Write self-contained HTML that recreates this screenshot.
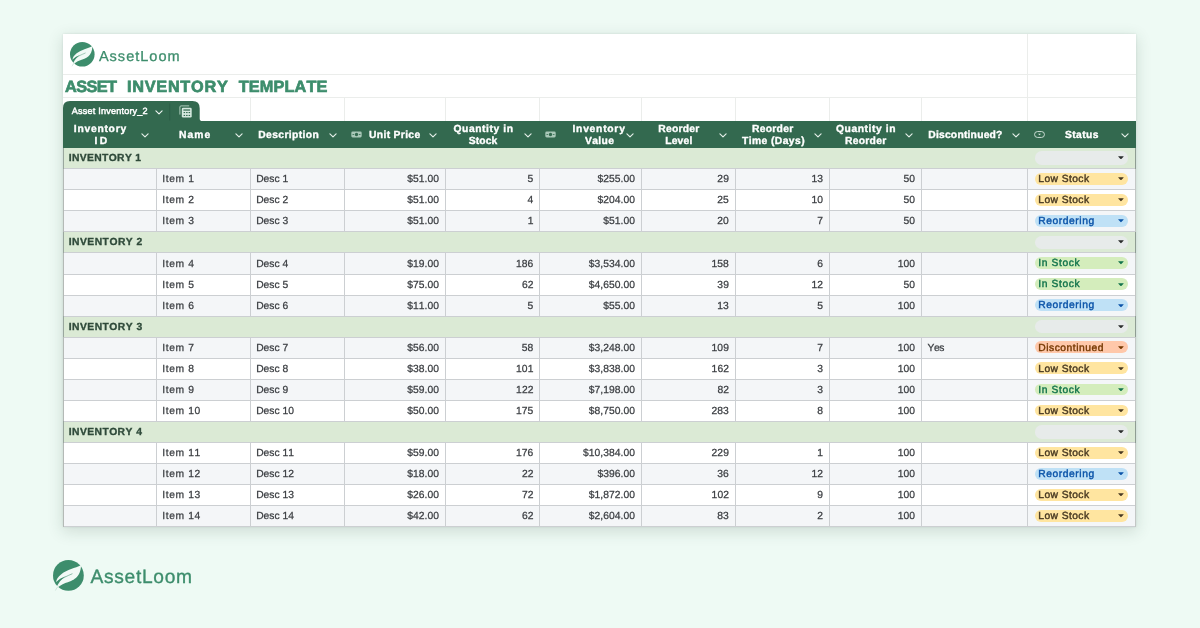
<!DOCTYPE html>
<html lang="en"><head><meta charset="utf-8"><title>Asset Inventory Template</title>
<style>
html,body{margin:0;padding:0;}
body{width:1200px;height:628px;overflow:hidden;background:#eefaf4;font-family:"Liberation Sans",sans-serif;position:relative;font-kerning:none;text-rendering:geometricPrecision;}
.abs{position:absolute;}
#sheet{position:absolute;left:62.5px;top:34px;width:1073.2px;height:492.8px;background:#fff;box-shadow:0 4px 14px 1px rgba(40,70,55,0.15), 0 0 2px rgba(40,70,55,0.12);}
.hl{position:absolute;height:1px;background:#ebedeb;}
.vl{position:absolute;width:1px;background:#ebedeb;}
.g{position:absolute;background:#cccfd2;}
.t{position:absolute;white-space:nowrap;}
#txt{position:absolute;left:0;top:0;width:1200px;height:628px;will-change:transform;}
.b{font-weight:bold;}
.pill{position:absolute;height:11.8px;border-radius:6px;}
.caret{position:absolute;width:5.9px;height:3.3px;}
</style></head><body>
<div id="sheet"></div>
<div class="hl" style="left:62.5px;top:74.2px;width:1073.2px;"></div>
<div class="hl" style="left:62.5px;top:97.2px;width:1073.2px;"></div>
<div class="vl" style="left:249.9px;top:97.7px;height:23.5px;"></div>
<div class="vl" style="left:344.3px;top:97.7px;height:23.5px;"></div>
<div class="vl" style="left:444.7px;top:97.7px;height:23.5px;"></div>
<div class="vl" style="left:539px;top:97.7px;height:23.5px;"></div>
<div class="vl" style="left:640.7px;top:97.7px;height:23.5px;"></div>
<div class="vl" style="left:734.5px;top:97.7px;height:23.5px;"></div>
<div class="vl" style="left:828.7px;top:97.7px;height:23.5px;"></div>
<div class="vl" style="left:920.7px;top:97.7px;height:23.5px;"></div>
<div class="vl" style="left:1027.2px;top:34px;height:87.2px;"></div>
<svg class="abs" style="left:70.05px;top:42.3px;" width="24.6" height="24.6" viewBox="0 0 100 100" overflow="visible"><circle cx="50" cy="50" r="50" fill="#3d8d6c"/><path d="M91,17 C72,26 46,31 27,46 C16,55 10,64 10.5,72 C18,63 30,57 44,52 C28,60 16,74 8,99 C15,88 27,79 42,74 C64,67 90,58 91,17 Z" fill="#f2faf6"/><path d="M12,72 C28,59 46,52 62,45" fill="none" stroke="#3d8d6c" stroke-width="1.8" stroke-linecap="round"/><path d="M8,99 C11,92 15,87 20,83" fill="none" stroke="#3d8d6c" stroke-opacity="0.45" stroke-width="1.4"/></svg>
<svg class="abs" style="left:63px;top:100.9px;" width="145" height="21" viewBox="0 0 145 21"><path d="M0,21 L0,7 Q0,0 7,0 L129.5,0 Q136.7,0 136.7,7.2 L136.7,17.6 Q136.7,20.3 139.4,20.3 L145,20.3 L145,21 Z" fill="#33694f"/><rect x="106.3" y="2.5" width="0.9" height="17" fill="#2c5d46"/></svg>
<svg class="abs" style="left:155.4px;top:109.8px;" width="8" height="5.2" viewBox="0 0 8 5.2"><path d="M0.9,0.8 L4,3.9 L7.1,0.8" fill="none" stroke="#f0f6f3" stroke-width="1.1" stroke-linecap="round" stroke-linejoin="round"/></svg>
<svg class="abs" style="left:178.6px;top:105px;" width="14" height="13.4" viewBox="0 0 14 13.4"><path d="M0.9,9.6 L0.9,2 Q0.9,0.9 2,0.9 L10.2,0.9" fill="none" stroke="#b5d3c3" stroke-width="0.95"/><rect x="2.8" y="2.7" width="9.9" height="9.9" rx="1.3" fill="#d6e9df"/><rect x="4.4" y="4.4" width="6.7" height="1.25" fill="#33694f"/><rect x="4.6" y="7" width="1.5" height="1.1" fill="#33694f"/><rect x="7.1" y="7" width="1.5" height="1.1" fill="#33694f"/><rect x="9.6" y="7" width="1.5" height="1.1" fill="#33694f"/><rect x="4.6" y="9.9" width="1.5" height="1.1" fill="#33694f"/><rect x="7.1" y="9.9" width="1.5" height="1.1" fill="#33694f"/><rect x="9.6" y="9.9" width="1.5" height="1.1" fill="#33694f"/></svg>
<div class="abs" style="left:62.5px;top:121.2px;width:1073.2px;height:26.4px;background:#33694f;"></div>
<svg class="abs" style="left:141.3px;top:132.9px;" width="8" height="5.2" viewBox="0 0 8 5.2"><path d="M0.9,0.8 L4,3.9 L7.1,0.8" fill="none" stroke="#e3eee8" stroke-width="1.15" stroke-linecap="round" stroke-linejoin="round"/></svg>
<svg class="abs" style="left:234.8px;top:132.9px;" width="8" height="5.2" viewBox="0 0 8 5.2"><path d="M0.9,0.8 L4,3.9 L7.1,0.8" fill="none" stroke="#e3eee8" stroke-width="1.15" stroke-linecap="round" stroke-linejoin="round"/></svg>
<svg class="abs" style="left:329.2px;top:132.9px;" width="8" height="5.2" viewBox="0 0 8 5.2"><path d="M0.9,0.8 L4,3.9 L7.1,0.8" fill="none" stroke="#e3eee8" stroke-width="1.15" stroke-linecap="round" stroke-linejoin="round"/></svg>
<svg class="abs" style="left:350.8px;top:130.8px;" width="11" height="7" viewBox="0 0 11 7"><rect x="0.3" y="0.5" width="10.4" height="6" rx="1.4" fill="#a9c8b8"/><circle cx="5.5" cy="3.5" r="1.7" fill="#33694f"/><rect x="1.6" y="3" width="1.2" height="1" fill="#33694f"/><rect x="8.2" y="3" width="1.2" height="1" fill="#33694f"/></svg>
<svg class="abs" style="left:429.3px;top:132.9px;" width="8" height="5.2" viewBox="0 0 8 5.2"><path d="M0.9,0.8 L4,3.9 L7.1,0.8" fill="none" stroke="#e3eee8" stroke-width="1.15" stroke-linecap="round" stroke-linejoin="round"/></svg>
<svg class="abs" style="left:523.5px;top:132.9px;" width="8" height="5.2" viewBox="0 0 8 5.2"><path d="M0.9,0.8 L4,3.9 L7.1,0.8" fill="none" stroke="#e3eee8" stroke-width="1.15" stroke-linecap="round" stroke-linejoin="round"/></svg>
<svg class="abs" style="left:545px;top:130.8px;" width="11" height="7" viewBox="0 0 11 7"><rect x="0.3" y="0.5" width="10.4" height="6" rx="1.4" fill="#a9c8b8"/><circle cx="5.5" cy="3.5" r="1.7" fill="#33694f"/><rect x="1.6" y="3" width="1.2" height="1" fill="#33694f"/><rect x="8.2" y="3" width="1.2" height="1" fill="#33694f"/></svg>
<svg class="abs" style="left:625.5px;top:132.9px;" width="8" height="5.2" viewBox="0 0 8 5.2"><path d="M0.9,0.8 L4,3.9 L7.1,0.8" fill="none" stroke="#e3eee8" stroke-width="1.15" stroke-linecap="round" stroke-linejoin="round"/></svg>
<svg class="abs" style="left:719.3px;top:132.9px;" width="8" height="5.2" viewBox="0 0 8 5.2"><path d="M0.9,0.8 L4,3.9 L7.1,0.8" fill="none" stroke="#e3eee8" stroke-width="1.15" stroke-linecap="round" stroke-linejoin="round"/></svg>
<svg class="abs" style="left:813.5px;top:132.9px;" width="8" height="5.2" viewBox="0 0 8 5.2"><path d="M0.9,0.8 L4,3.9 L7.1,0.8" fill="none" stroke="#e3eee8" stroke-width="1.15" stroke-linecap="round" stroke-linejoin="round"/></svg>
<svg class="abs" style="left:905.3px;top:132.9px;" width="8" height="5.2" viewBox="0 0 8 5.2"><path d="M0.9,0.8 L4,3.9 L7.1,0.8" fill="none" stroke="#e3eee8" stroke-width="1.15" stroke-linecap="round" stroke-linejoin="round"/></svg>
<svg class="abs" style="left:1011.8px;top:132.9px;" width="8" height="5.2" viewBox="0 0 8 5.2"><path d="M0.9,0.8 L4,3.9 L7.1,0.8" fill="none" stroke="#e3eee8" stroke-width="1.15" stroke-linecap="round" stroke-linejoin="round"/></svg>
<svg class="abs" style="left:1033.7px;top:131px;" width="11" height="7" viewBox="0 0 11 7"><rect x="0.55" y="0.55" width="9.9" height="5.9" rx="2.95" fill="none" stroke="#d9e8e0" stroke-width="0.9"/><path d="M4.1,2.7 L6.9,2.7 L5.5,4.3 Z" fill="#d9e8e0"/></svg>
<svg class="abs" style="left:1120.5px;top:132.9px;" width="8" height="5.2" viewBox="0 0 8 5.2"><path d="M0.9,0.8 L4,3.9 L7.1,0.8" fill="none" stroke="#e3eee8" stroke-width="1.15" stroke-linecap="round" stroke-linejoin="round"/></svg>
<div class="abs" style="left:62.5px;top:147.6px;width:1073.2px;height:21.07px;background:#dbead5;"></div>
<div class="abs" style="left:1034.8px;top:151.28px;width:93.2px;height:13.4px;border-radius:6.7px;background:rgba(232,234,237,0.88);"></div>
<svg class="caret" style="left:1118.35px;top:156.13px;" viewBox="0 0 6.4 3.6"><path d="M0.5,0.2 L5.9,0.2 Q6.3,0.3 6,0.7 L3.6,3.3 Q3.2,3.6 2.8,3.3 L0.4,0.7 Q0.1,0.3 0.5,0.2 Z" fill="#2a2d2c"/></svg>
<div class="abs" style="left:62.5px;top:168.67px;width:1073.2px;height:21.07px;background:#f4f6f8;"></div>
<div class="pill" style="left:1034.6px;top:172.85px;width:93.9px;background:#ffe5a0;"></div>
<svg class="caret" style="left:1118.35px;top:177.2px;" viewBox="0 0 6.4 3.6"><path d="M0.5,0.2 L5.9,0.2 Q6.3,0.3 6,0.7 L3.6,3.3 Q3.2,3.6 2.8,3.3 L0.4,0.7 Q0.1,0.3 0.5,0.2 Z" fill="#473821"/></svg>
<div class="pill" style="left:1034.6px;top:193.92px;width:93.9px;background:#ffe5a0;"></div>
<svg class="caret" style="left:1118.35px;top:198.27px;" viewBox="0 0 6.4 3.6"><path d="M0.5,0.2 L5.9,0.2 Q6.3,0.3 6,0.7 L3.6,3.3 Q3.2,3.6 2.8,3.3 L0.4,0.7 Q0.1,0.3 0.5,0.2 Z" fill="#473821"/></svg>
<div class="abs" style="left:62.5px;top:210.8px;width:1073.2px;height:21.07px;background:#f4f6f8;"></div>
<div class="pill" style="left:1034.6px;top:214.98px;width:93.9px;background:#bfe1f6;"></div>
<svg class="caret" style="left:1118.35px;top:219.33px;" viewBox="0 0 6.4 3.6"><path d="M0.5,0.2 L5.9,0.2 Q6.3,0.3 6,0.7 L3.6,3.3 Q3.2,3.6 2.8,3.3 L0.4,0.7 Q0.1,0.3 0.5,0.2 Z" fill="#0a53a8"/></svg>
<div class="abs" style="left:62.5px;top:231.87px;width:1073.2px;height:21.07px;background:#dbead5;"></div>
<div class="abs" style="left:1034.8px;top:235.55px;width:93.2px;height:13.4px;border-radius:6.7px;background:rgba(232,234,237,0.88);"></div>
<svg class="caret" style="left:1118.35px;top:240.4px;" viewBox="0 0 6.4 3.6"><path d="M0.5,0.2 L5.9,0.2 Q6.3,0.3 6,0.7 L3.6,3.3 Q3.2,3.6 2.8,3.3 L0.4,0.7 Q0.1,0.3 0.5,0.2 Z" fill="#2a2d2c"/></svg>
<div class="abs" style="left:62.5px;top:252.93px;width:1073.2px;height:21.07px;background:#f4f6f8;"></div>
<div class="pill" style="left:1034.6px;top:257.12px;width:93.9px;background:#d4edbc;"></div>
<svg class="caret" style="left:1118.35px;top:261.47px;" viewBox="0 0 6.4 3.6"><path d="M0.5,0.2 L5.9,0.2 Q6.3,0.3 6,0.7 L3.6,3.3 Q3.2,3.6 2.8,3.3 L0.4,0.7 Q0.1,0.3 0.5,0.2 Z" fill="#11734b"/></svg>
<div class="pill" style="left:1034.6px;top:278.18px;width:93.9px;background:#d4edbc;"></div>
<svg class="caret" style="left:1118.35px;top:282.53px;" viewBox="0 0 6.4 3.6"><path d="M0.5,0.2 L5.9,0.2 Q6.3,0.3 6,0.7 L3.6,3.3 Q3.2,3.6 2.8,3.3 L0.4,0.7 Q0.1,0.3 0.5,0.2 Z" fill="#11734b"/></svg>
<div class="abs" style="left:62.5px;top:295.07px;width:1073.2px;height:21.07px;background:#f4f6f8;"></div>
<div class="pill" style="left:1034.6px;top:299.25px;width:93.9px;background:#bfe1f6;"></div>
<svg class="caret" style="left:1118.35px;top:303.6px;" viewBox="0 0 6.4 3.6"><path d="M0.5,0.2 L5.9,0.2 Q6.3,0.3 6,0.7 L3.6,3.3 Q3.2,3.6 2.8,3.3 L0.4,0.7 Q0.1,0.3 0.5,0.2 Z" fill="#0a53a8"/></svg>
<div class="abs" style="left:62.5px;top:316.13px;width:1073.2px;height:21.07px;background:#dbead5;"></div>
<div class="abs" style="left:1034.8px;top:319.82px;width:93.2px;height:13.4px;border-radius:6.7px;background:rgba(232,234,237,0.88);"></div>
<svg class="caret" style="left:1118.35px;top:324.67px;" viewBox="0 0 6.4 3.6"><path d="M0.5,0.2 L5.9,0.2 Q6.3,0.3 6,0.7 L3.6,3.3 Q3.2,3.6 2.8,3.3 L0.4,0.7 Q0.1,0.3 0.5,0.2 Z" fill="#2a2d2c"/></svg>
<div class="abs" style="left:62.5px;top:337.2px;width:1073.2px;height:21.07px;background:#f4f6f8;"></div>
<div class="pill" style="left:1034.6px;top:341.38px;width:93.9px;background:#ffc8aa;"></div>
<svg class="caret" style="left:1118.35px;top:345.73px;" viewBox="0 0 6.4 3.6"><path d="M0.5,0.2 L5.9,0.2 Q6.3,0.3 6,0.7 L3.6,3.3 Q3.2,3.6 2.8,3.3 L0.4,0.7 Q0.1,0.3 0.5,0.2 Z" fill="#753800"/></svg>
<div class="pill" style="left:1034.6px;top:362.45px;width:93.9px;background:#ffe5a0;"></div>
<svg class="caret" style="left:1118.35px;top:366.8px;" viewBox="0 0 6.4 3.6"><path d="M0.5,0.2 L5.9,0.2 Q6.3,0.3 6,0.7 L3.6,3.3 Q3.2,3.6 2.8,3.3 L0.4,0.7 Q0.1,0.3 0.5,0.2 Z" fill="#473821"/></svg>
<div class="abs" style="left:62.5px;top:379.33px;width:1073.2px;height:21.07px;background:#f4f6f8;"></div>
<div class="pill" style="left:1034.6px;top:383.52px;width:93.9px;background:#d4edbc;"></div>
<svg class="caret" style="left:1118.35px;top:387.87px;" viewBox="0 0 6.4 3.6"><path d="M0.5,0.2 L5.9,0.2 Q6.3,0.3 6,0.7 L3.6,3.3 Q3.2,3.6 2.8,3.3 L0.4,0.7 Q0.1,0.3 0.5,0.2 Z" fill="#11734b"/></svg>
<div class="pill" style="left:1034.6px;top:404.58px;width:93.9px;background:#ffe5a0;"></div>
<svg class="caret" style="left:1118.35px;top:408.93px;" viewBox="0 0 6.4 3.6"><path d="M0.5,0.2 L5.9,0.2 Q6.3,0.3 6,0.7 L3.6,3.3 Q3.2,3.6 2.8,3.3 L0.4,0.7 Q0.1,0.3 0.5,0.2 Z" fill="#473821"/></svg>
<div class="abs" style="left:62.5px;top:421.47px;width:1073.2px;height:21.07px;background:#dbead5;"></div>
<div class="abs" style="left:1034.8px;top:425.15px;width:93.2px;height:13.4px;border-radius:6.7px;background:rgba(232,234,237,0.88);"></div>
<svg class="caret" style="left:1118.35px;top:430px;" viewBox="0 0 6.4 3.6"><path d="M0.5,0.2 L5.9,0.2 Q6.3,0.3 6,0.7 L3.6,3.3 Q3.2,3.6 2.8,3.3 L0.4,0.7 Q0.1,0.3 0.5,0.2 Z" fill="#2a2d2c"/></svg>
<div class="pill" style="left:1034.6px;top:446.72px;width:93.9px;background:#ffe5a0;"></div>
<svg class="caret" style="left:1118.35px;top:451.07px;" viewBox="0 0 6.4 3.6"><path d="M0.5,0.2 L5.9,0.2 Q6.3,0.3 6,0.7 L3.6,3.3 Q3.2,3.6 2.8,3.3 L0.4,0.7 Q0.1,0.3 0.5,0.2 Z" fill="#473821"/></svg>
<div class="abs" style="left:62.5px;top:463.6px;width:1073.2px;height:21.07px;background:#f4f6f8;"></div>
<div class="pill" style="left:1034.6px;top:467.78px;width:93.9px;background:#bfe1f6;"></div>
<svg class="caret" style="left:1118.35px;top:472.13px;" viewBox="0 0 6.4 3.6"><path d="M0.5,0.2 L5.9,0.2 Q6.3,0.3 6,0.7 L3.6,3.3 Q3.2,3.6 2.8,3.3 L0.4,0.7 Q0.1,0.3 0.5,0.2 Z" fill="#0a53a8"/></svg>
<div class="pill" style="left:1034.6px;top:488.85px;width:93.9px;background:#ffe5a0;"></div>
<svg class="caret" style="left:1118.35px;top:493.2px;" viewBox="0 0 6.4 3.6"><path d="M0.5,0.2 L5.9,0.2 Q6.3,0.3 6,0.7 L3.6,3.3 Q3.2,3.6 2.8,3.3 L0.4,0.7 Q0.1,0.3 0.5,0.2 Z" fill="#473821"/></svg>
<div class="abs" style="left:62.5px;top:505.73px;width:1073.2px;height:21.07px;background:#f4f6f8;"></div>
<div class="pill" style="left:1034.6px;top:509.92px;width:93.9px;background:#ffe5a0;"></div>
<svg class="caret" style="left:1118.35px;top:514.27px;" viewBox="0 0 6.4 3.6"><path d="M0.5,0.2 L5.9,0.2 Q6.3,0.3 6,0.7 L3.6,3.3 Q3.2,3.6 2.8,3.3 L0.4,0.7 Q0.1,0.3 0.5,0.2 Z" fill="#473821"/></svg>
<div class="g" style="left:62.5px;top:168.17px;width:1073.2px;height:1px;"></div>
<div class="g" style="left:62.5px;top:189.23px;width:1073.2px;height:1px;"></div>
<div class="g" style="left:62.5px;top:210.3px;width:1073.2px;height:1px;"></div>
<div class="g" style="left:62.5px;top:231.37px;width:1073.2px;height:1px;"></div>
<div class="g" style="left:62.5px;top:252.43px;width:1073.2px;height:1px;"></div>
<div class="g" style="left:62.5px;top:273.5px;width:1073.2px;height:1px;"></div>
<div class="g" style="left:62.5px;top:294.57px;width:1073.2px;height:1px;"></div>
<div class="g" style="left:62.5px;top:315.63px;width:1073.2px;height:1px;"></div>
<div class="g" style="left:62.5px;top:336.7px;width:1073.2px;height:1px;"></div>
<div class="g" style="left:62.5px;top:357.77px;width:1073.2px;height:1px;"></div>
<div class="g" style="left:62.5px;top:378.83px;width:1073.2px;height:1px;"></div>
<div class="g" style="left:62.5px;top:399.9px;width:1073.2px;height:1px;"></div>
<div class="g" style="left:62.5px;top:420.97px;width:1073.2px;height:1px;"></div>
<div class="g" style="left:62.5px;top:442.03px;width:1073.2px;height:1px;"></div>
<div class="g" style="left:62.5px;top:463.1px;width:1073.2px;height:1px;"></div>
<div class="g" style="left:62.5px;top:484.17px;width:1073.2px;height:1px;"></div>
<div class="g" style="left:62.5px;top:505.23px;width:1073.2px;height:1px;"></div>
<div class="g" style="left:62.5px;top:526.3px;width:1073.2px;height:1px;"></div>
<div class="g" style="left:156.2px;top:168.67px;width:1px;height:21.07px;"></div>
<div class="g" style="left:249.9px;top:168.67px;width:1px;height:21.07px;"></div>
<div class="g" style="left:344.3px;top:168.67px;width:1px;height:21.07px;"></div>
<div class="g" style="left:444.7px;top:168.67px;width:1px;height:21.07px;"></div>
<div class="g" style="left:539px;top:168.67px;width:1px;height:21.07px;"></div>
<div class="g" style="left:640.7px;top:168.67px;width:1px;height:21.07px;"></div>
<div class="g" style="left:734.5px;top:168.67px;width:1px;height:21.07px;"></div>
<div class="g" style="left:828.7px;top:168.67px;width:1px;height:21.07px;"></div>
<div class="g" style="left:920.7px;top:168.67px;width:1px;height:21.07px;"></div>
<div class="g" style="left:1027.2px;top:168.67px;width:1px;height:21.07px;"></div>
<div class="g" style="left:156.2px;top:189.73px;width:1px;height:21.07px;"></div>
<div class="g" style="left:249.9px;top:189.73px;width:1px;height:21.07px;"></div>
<div class="g" style="left:344.3px;top:189.73px;width:1px;height:21.07px;"></div>
<div class="g" style="left:444.7px;top:189.73px;width:1px;height:21.07px;"></div>
<div class="g" style="left:539px;top:189.73px;width:1px;height:21.07px;"></div>
<div class="g" style="left:640.7px;top:189.73px;width:1px;height:21.07px;"></div>
<div class="g" style="left:734.5px;top:189.73px;width:1px;height:21.07px;"></div>
<div class="g" style="left:828.7px;top:189.73px;width:1px;height:21.07px;"></div>
<div class="g" style="left:920.7px;top:189.73px;width:1px;height:21.07px;"></div>
<div class="g" style="left:1027.2px;top:189.73px;width:1px;height:21.07px;"></div>
<div class="g" style="left:156.2px;top:210.8px;width:1px;height:21.07px;"></div>
<div class="g" style="left:249.9px;top:210.8px;width:1px;height:21.07px;"></div>
<div class="g" style="left:344.3px;top:210.8px;width:1px;height:21.07px;"></div>
<div class="g" style="left:444.7px;top:210.8px;width:1px;height:21.07px;"></div>
<div class="g" style="left:539px;top:210.8px;width:1px;height:21.07px;"></div>
<div class="g" style="left:640.7px;top:210.8px;width:1px;height:21.07px;"></div>
<div class="g" style="left:734.5px;top:210.8px;width:1px;height:21.07px;"></div>
<div class="g" style="left:828.7px;top:210.8px;width:1px;height:21.07px;"></div>
<div class="g" style="left:920.7px;top:210.8px;width:1px;height:21.07px;"></div>
<div class="g" style="left:1027.2px;top:210.8px;width:1px;height:21.07px;"></div>
<div class="g" style="left:156.2px;top:252.93px;width:1px;height:21.07px;"></div>
<div class="g" style="left:249.9px;top:252.93px;width:1px;height:21.07px;"></div>
<div class="g" style="left:344.3px;top:252.93px;width:1px;height:21.07px;"></div>
<div class="g" style="left:444.7px;top:252.93px;width:1px;height:21.07px;"></div>
<div class="g" style="left:539px;top:252.93px;width:1px;height:21.07px;"></div>
<div class="g" style="left:640.7px;top:252.93px;width:1px;height:21.07px;"></div>
<div class="g" style="left:734.5px;top:252.93px;width:1px;height:21.07px;"></div>
<div class="g" style="left:828.7px;top:252.93px;width:1px;height:21.07px;"></div>
<div class="g" style="left:920.7px;top:252.93px;width:1px;height:21.07px;"></div>
<div class="g" style="left:1027.2px;top:252.93px;width:1px;height:21.07px;"></div>
<div class="g" style="left:156.2px;top:274px;width:1px;height:21.07px;"></div>
<div class="g" style="left:249.9px;top:274px;width:1px;height:21.07px;"></div>
<div class="g" style="left:344.3px;top:274px;width:1px;height:21.07px;"></div>
<div class="g" style="left:444.7px;top:274px;width:1px;height:21.07px;"></div>
<div class="g" style="left:539px;top:274px;width:1px;height:21.07px;"></div>
<div class="g" style="left:640.7px;top:274px;width:1px;height:21.07px;"></div>
<div class="g" style="left:734.5px;top:274px;width:1px;height:21.07px;"></div>
<div class="g" style="left:828.7px;top:274px;width:1px;height:21.07px;"></div>
<div class="g" style="left:920.7px;top:274px;width:1px;height:21.07px;"></div>
<div class="g" style="left:1027.2px;top:274px;width:1px;height:21.07px;"></div>
<div class="g" style="left:156.2px;top:295.07px;width:1px;height:21.07px;"></div>
<div class="g" style="left:249.9px;top:295.07px;width:1px;height:21.07px;"></div>
<div class="g" style="left:344.3px;top:295.07px;width:1px;height:21.07px;"></div>
<div class="g" style="left:444.7px;top:295.07px;width:1px;height:21.07px;"></div>
<div class="g" style="left:539px;top:295.07px;width:1px;height:21.07px;"></div>
<div class="g" style="left:640.7px;top:295.07px;width:1px;height:21.07px;"></div>
<div class="g" style="left:734.5px;top:295.07px;width:1px;height:21.07px;"></div>
<div class="g" style="left:828.7px;top:295.07px;width:1px;height:21.07px;"></div>
<div class="g" style="left:920.7px;top:295.07px;width:1px;height:21.07px;"></div>
<div class="g" style="left:1027.2px;top:295.07px;width:1px;height:21.07px;"></div>
<div class="g" style="left:156.2px;top:337.2px;width:1px;height:21.07px;"></div>
<div class="g" style="left:249.9px;top:337.2px;width:1px;height:21.07px;"></div>
<div class="g" style="left:344.3px;top:337.2px;width:1px;height:21.07px;"></div>
<div class="g" style="left:444.7px;top:337.2px;width:1px;height:21.07px;"></div>
<div class="g" style="left:539px;top:337.2px;width:1px;height:21.07px;"></div>
<div class="g" style="left:640.7px;top:337.2px;width:1px;height:21.07px;"></div>
<div class="g" style="left:734.5px;top:337.2px;width:1px;height:21.07px;"></div>
<div class="g" style="left:828.7px;top:337.2px;width:1px;height:21.07px;"></div>
<div class="g" style="left:920.7px;top:337.2px;width:1px;height:21.07px;"></div>
<div class="g" style="left:1027.2px;top:337.2px;width:1px;height:21.07px;"></div>
<div class="g" style="left:156.2px;top:358.27px;width:1px;height:21.07px;"></div>
<div class="g" style="left:249.9px;top:358.27px;width:1px;height:21.07px;"></div>
<div class="g" style="left:344.3px;top:358.27px;width:1px;height:21.07px;"></div>
<div class="g" style="left:444.7px;top:358.27px;width:1px;height:21.07px;"></div>
<div class="g" style="left:539px;top:358.27px;width:1px;height:21.07px;"></div>
<div class="g" style="left:640.7px;top:358.27px;width:1px;height:21.07px;"></div>
<div class="g" style="left:734.5px;top:358.27px;width:1px;height:21.07px;"></div>
<div class="g" style="left:828.7px;top:358.27px;width:1px;height:21.07px;"></div>
<div class="g" style="left:920.7px;top:358.27px;width:1px;height:21.07px;"></div>
<div class="g" style="left:1027.2px;top:358.27px;width:1px;height:21.07px;"></div>
<div class="g" style="left:156.2px;top:379.33px;width:1px;height:21.07px;"></div>
<div class="g" style="left:249.9px;top:379.33px;width:1px;height:21.07px;"></div>
<div class="g" style="left:344.3px;top:379.33px;width:1px;height:21.07px;"></div>
<div class="g" style="left:444.7px;top:379.33px;width:1px;height:21.07px;"></div>
<div class="g" style="left:539px;top:379.33px;width:1px;height:21.07px;"></div>
<div class="g" style="left:640.7px;top:379.33px;width:1px;height:21.07px;"></div>
<div class="g" style="left:734.5px;top:379.33px;width:1px;height:21.07px;"></div>
<div class="g" style="left:828.7px;top:379.33px;width:1px;height:21.07px;"></div>
<div class="g" style="left:920.7px;top:379.33px;width:1px;height:21.07px;"></div>
<div class="g" style="left:1027.2px;top:379.33px;width:1px;height:21.07px;"></div>
<div class="g" style="left:156.2px;top:400.4px;width:1px;height:21.07px;"></div>
<div class="g" style="left:249.9px;top:400.4px;width:1px;height:21.07px;"></div>
<div class="g" style="left:344.3px;top:400.4px;width:1px;height:21.07px;"></div>
<div class="g" style="left:444.7px;top:400.4px;width:1px;height:21.07px;"></div>
<div class="g" style="left:539px;top:400.4px;width:1px;height:21.07px;"></div>
<div class="g" style="left:640.7px;top:400.4px;width:1px;height:21.07px;"></div>
<div class="g" style="left:734.5px;top:400.4px;width:1px;height:21.07px;"></div>
<div class="g" style="left:828.7px;top:400.4px;width:1px;height:21.07px;"></div>
<div class="g" style="left:920.7px;top:400.4px;width:1px;height:21.07px;"></div>
<div class="g" style="left:1027.2px;top:400.4px;width:1px;height:21.07px;"></div>
<div class="g" style="left:156.2px;top:442.53px;width:1px;height:21.07px;"></div>
<div class="g" style="left:249.9px;top:442.53px;width:1px;height:21.07px;"></div>
<div class="g" style="left:344.3px;top:442.53px;width:1px;height:21.07px;"></div>
<div class="g" style="left:444.7px;top:442.53px;width:1px;height:21.07px;"></div>
<div class="g" style="left:539px;top:442.53px;width:1px;height:21.07px;"></div>
<div class="g" style="left:640.7px;top:442.53px;width:1px;height:21.07px;"></div>
<div class="g" style="left:734.5px;top:442.53px;width:1px;height:21.07px;"></div>
<div class="g" style="left:828.7px;top:442.53px;width:1px;height:21.07px;"></div>
<div class="g" style="left:920.7px;top:442.53px;width:1px;height:21.07px;"></div>
<div class="g" style="left:1027.2px;top:442.53px;width:1px;height:21.07px;"></div>
<div class="g" style="left:156.2px;top:463.6px;width:1px;height:21.07px;"></div>
<div class="g" style="left:249.9px;top:463.6px;width:1px;height:21.07px;"></div>
<div class="g" style="left:344.3px;top:463.6px;width:1px;height:21.07px;"></div>
<div class="g" style="left:444.7px;top:463.6px;width:1px;height:21.07px;"></div>
<div class="g" style="left:539px;top:463.6px;width:1px;height:21.07px;"></div>
<div class="g" style="left:640.7px;top:463.6px;width:1px;height:21.07px;"></div>
<div class="g" style="left:734.5px;top:463.6px;width:1px;height:21.07px;"></div>
<div class="g" style="left:828.7px;top:463.6px;width:1px;height:21.07px;"></div>
<div class="g" style="left:920.7px;top:463.6px;width:1px;height:21.07px;"></div>
<div class="g" style="left:1027.2px;top:463.6px;width:1px;height:21.07px;"></div>
<div class="g" style="left:156.2px;top:484.67px;width:1px;height:21.07px;"></div>
<div class="g" style="left:249.9px;top:484.67px;width:1px;height:21.07px;"></div>
<div class="g" style="left:344.3px;top:484.67px;width:1px;height:21.07px;"></div>
<div class="g" style="left:444.7px;top:484.67px;width:1px;height:21.07px;"></div>
<div class="g" style="left:539px;top:484.67px;width:1px;height:21.07px;"></div>
<div class="g" style="left:640.7px;top:484.67px;width:1px;height:21.07px;"></div>
<div class="g" style="left:734.5px;top:484.67px;width:1px;height:21.07px;"></div>
<div class="g" style="left:828.7px;top:484.67px;width:1px;height:21.07px;"></div>
<div class="g" style="left:920.7px;top:484.67px;width:1px;height:21.07px;"></div>
<div class="g" style="left:1027.2px;top:484.67px;width:1px;height:21.07px;"></div>
<div class="g" style="left:156.2px;top:505.73px;width:1px;height:21.07px;"></div>
<div class="g" style="left:249.9px;top:505.73px;width:1px;height:21.07px;"></div>
<div class="g" style="left:344.3px;top:505.73px;width:1px;height:21.07px;"></div>
<div class="g" style="left:444.7px;top:505.73px;width:1px;height:21.07px;"></div>
<div class="g" style="left:539px;top:505.73px;width:1px;height:21.07px;"></div>
<div class="g" style="left:640.7px;top:505.73px;width:1px;height:21.07px;"></div>
<div class="g" style="left:734.5px;top:505.73px;width:1px;height:21.07px;"></div>
<div class="g" style="left:828.7px;top:505.73px;width:1px;height:21.07px;"></div>
<div class="g" style="left:920.7px;top:505.73px;width:1px;height:21.07px;"></div>
<div class="g" style="left:1027.2px;top:505.73px;width:1px;height:21.07px;"></div>
<div class="g" style="left:62.5px;top:147.6px;width:1px;height:379.2px;background:#b4b9b6;"></div>
<div class="g" style="left:1134.7px;top:147.6px;width:1px;height:379.2px;background:#c3c7c5;"></div>
<div class="abs" style="left:1134.7px;top:147.6px;width:1px;height:21.07px;background:#8f9d93;"></div>
<div class="abs" style="left:62.5px;top:147.6px;width:1px;height:21.07px;background:#9aa79e;"></div>
<div class="abs" style="left:1134.7px;top:231.87px;width:1px;height:21.07px;background:#8f9d93;"></div>
<div class="abs" style="left:62.5px;top:231.87px;width:1px;height:21.07px;background:#9aa79e;"></div>
<div class="abs" style="left:1134.7px;top:316.13px;width:1px;height:21.07px;background:#8f9d93;"></div>
<div class="abs" style="left:62.5px;top:316.13px;width:1px;height:21.07px;background:#9aa79e;"></div>
<div class="abs" style="left:1134.7px;top:421.47px;width:1px;height:21.07px;background:#8f9d93;"></div>
<div class="abs" style="left:62.5px;top:421.47px;width:1px;height:21.07px;background:#9aa79e;"></div>
<svg class="abs" style="left:53.35px;top:560.2px;" width="30.8" height="30.8" viewBox="0 0 100 100" overflow="visible"><circle cx="50" cy="50" r="50" fill="#3d8d6c"/><path d="M91,17 C72,26 46,31 27,46 C16,55 10,64 10.5,72 C18,63 30,57 44,52 C28,60 16,74 8,99 C15,88 27,79 42,74 C64,67 90,58 91,17 Z" fill="#f2faf6"/><path d="M12,72 C28,59 46,52 62,45" fill="none" stroke="#3d8d6c" stroke-width="1.8" stroke-linecap="round"/><path d="M8,99 C11,92 15,87 20,83" fill="none" stroke="#3d8d6c" stroke-opacity="0.45" stroke-width="1.4"/></svg>
<div id="txt">
<div class="t" style="left:98.92px;top:48.6px;font-size:14.5px;line-height:17px;letter-spacing:1.019px;color:#3d8d6c;-webkit-text-stroke:0.3px #3d8d6c;">AssetLoom</div>
<div class="t b" style="left:65.04px;top:76.8px;font-size:16.3px;line-height:20px;letter-spacing:-0.591px;color:#3d8d6c;-webkit-text-stroke:0.7px #3d8d6c;">ASSET</div>
<div class="t b" style="left:126.96px;top:76.8px;font-size:16.3px;line-height:20px;letter-spacing:0.732px;color:#3d8d6c;-webkit-text-stroke:0.7px #3d8d6c;">INVENTORY</div>
<div class="t b" style="left:238.67px;top:76.8px;font-size:16.3px;line-height:20px;letter-spacing:0.141px;color:#3d8d6c;-webkit-text-stroke:0.7px #3d8d6c;">TEMPLATE</div>
<div class="t" style="left:71.71px;top:106.3px;font-size:9.1px;line-height:11px;letter-spacing:0.199px;color:#fff;-webkit-text-stroke:0.45px #fff;">Asset Inventory_2</div>
<div class="t b" style="left:73.79px;top:124px;font-size:10.3px;line-height:12px;letter-spacing:0.748px;color:#fff;-webkit-text-stroke:0.35px #fff;">Inventory</div>
<div class="t b" style="left:94.39px;top:136.4px;font-size:10.3px;line-height:12px;letter-spacing:2.472px;color:#fff;-webkit-text-stroke:0.35px #fff;">ID</div>
<div class="t b" style="left:178.99px;top:130px;font-size:10.3px;line-height:12px;letter-spacing:1.046px;color:#fff;-webkit-text-stroke:0.35px #fff;">Name</div>
<div class="t b" style="left:258.24px;top:130px;font-size:10.3px;line-height:12px;letter-spacing:0.382px;color:#fff;-webkit-text-stroke:0.35px #fff;">Description</div>
<div class="t b" style="left:369.06px;top:130px;font-size:10.3px;line-height:12px;letter-spacing:0.338px;color:#fff;-webkit-text-stroke:0.35px #fff;">Unit Price</div>
<div class="t b" style="left:453.5px;top:124px;font-size:10.3px;line-height:12px;letter-spacing:0.567px;color:#fff;-webkit-text-stroke:0.35px #fff;">Quantity in</div>
<div class="t b" style="left:468.63px;top:136.4px;font-size:10.3px;line-height:12px;letter-spacing:0.160px;color:#fff;-webkit-text-stroke:0.35px #fff;">Stock</div>
<div class="t b" style="left:572.49px;top:124px;font-size:10.3px;line-height:12px;letter-spacing:0.754px;color:#fff;-webkit-text-stroke:0.35px #fff;">Inventory</div>
<div class="t b" style="left:585.1px;top:136.4px;font-size:10.3px;line-height:12px;letter-spacing:0.336px;color:#fff;-webkit-text-stroke:0.35px #fff;">Value</div>
<div class="t b" style="left:658.24px;top:124px;font-size:10.3px;line-height:12px;letter-spacing:0.250px;color:#fff;-webkit-text-stroke:0.35px #fff;">Reorder</div>
<div class="t b" style="left:665.24px;top:136.4px;font-size:10.3px;line-height:12px;letter-spacing:0.182px;color:#fff;-webkit-text-stroke:0.35px #fff;">Level</div>
<div class="t b" style="left:751.99px;top:124px;font-size:10.3px;line-height:12px;letter-spacing:0.292px;color:#fff;-webkit-text-stroke:0.35px #fff;">Reorder</div>
<div class="t b" style="left:742.06px;top:136.4px;font-size:10.3px;line-height:12px;letter-spacing:0.414px;color:#fff;-webkit-text-stroke:0.35px #fff;">Time (Days)</div>
<div class="t b" style="left:836px;top:124px;font-size:10.3px;line-height:12px;letter-spacing:0.567px;color:#fff;-webkit-text-stroke:0.35px #fff;">Quantity in</div>
<div class="t b" style="left:844.99px;top:136.4px;font-size:10.3px;line-height:12px;letter-spacing:0.292px;color:#fff;-webkit-text-stroke:0.35px #fff;">Reorder</div>
<div class="t b" style="left:928.24px;top:130px;font-size:10.3px;line-height:12px;letter-spacing:0.221px;color:#fff;-webkit-text-stroke:0.35px #fff;">Discontinued?</div>
<div class="t b" style="left:1064.88px;top:130px;font-size:10.3px;line-height:12px;letter-spacing:0.428px;color:#fff;-webkit-text-stroke:0.35px #fff;">Status</div>
<div class="t b" style="left:68.74px;top:153.2px;font-size:10.3px;line-height:12px;letter-spacing:0.370px;color:#2f4a3a;-webkit-text-stroke:0.35px #2f4a3a;">INVENTORY 1</div>
<div class="t" style="left:162.27px;top:174.27px;font-size:10.3px;line-height:12px;letter-spacing:0.600px;color:#3a3d41;-webkit-text-stroke:0.25px #3a3d41;">Item 1</div>
<div class="t" style="left:256.18px;top:174.27px;font-size:10.3px;line-height:12px;letter-spacing:0.000px;color:#3a3d41;-webkit-text-stroke:0.25px #3a3d41;">Desc 1</div>
<div class="t" style="left:407.22px;top:174.27px;font-size:10.3px;line-height:12px;letter-spacing:0.050px;color:#3a3d41;-webkit-text-stroke:0.25px #3a3d41;">$51.00</div>
<div class="t" style="left:527.58px;top:174.27px;font-size:10.3px;line-height:12px;letter-spacing:0.050px;color:#3a3d41;-webkit-text-stroke:0.25px #3a3d41;">5</div>
<div class="t" style="left:597.45px;top:174.27px;font-size:10.3px;line-height:12px;letter-spacing:0.050px;color:#3a3d41;-webkit-text-stroke:0.25px #3a3d41;">$255.00</div>
<div class="t" style="left:717.36px;top:174.27px;font-size:10.3px;line-height:12px;letter-spacing:0.050px;color:#3a3d41;-webkit-text-stroke:0.25px #3a3d41;">29</div>
<div class="t" style="left:811.52px;top:174.27px;font-size:10.3px;line-height:12px;letter-spacing:0.050px;color:#3a3d41;-webkit-text-stroke:0.25px #3a3d41;">13</div>
<div class="t" style="left:903.47px;top:174.27px;font-size:10.3px;line-height:12px;letter-spacing:0.050px;color:#3a3d41;-webkit-text-stroke:0.25px #3a3d41;">50</div>
<div class="t" style="left:1038.26px;top:173.97px;font-size:10.3px;line-height:12px;letter-spacing:0.414px;color:#473821;-webkit-text-stroke:0.4px #473821;">Low Stock</div>
<div class="t" style="left:162.27px;top:195.33px;font-size:10.3px;line-height:12px;letter-spacing:0.600px;color:#3a3d41;-webkit-text-stroke:0.25px #3a3d41;">Item 2</div>
<div class="t" style="left:256.18px;top:195.33px;font-size:10.3px;line-height:12px;letter-spacing:0.000px;color:#3a3d41;-webkit-text-stroke:0.25px #3a3d41;">Desc 2</div>
<div class="t" style="left:407.22px;top:195.33px;font-size:10.3px;line-height:12px;letter-spacing:0.050px;color:#3a3d41;-webkit-text-stroke:0.25px #3a3d41;">$51.00</div>
<div class="t" style="left:527.45px;top:195.33px;font-size:10.3px;line-height:12px;letter-spacing:0.050px;color:#3a3d41;-webkit-text-stroke:0.25px #3a3d41;">4</div>
<div class="t" style="left:597.45px;top:195.33px;font-size:10.3px;line-height:12px;letter-spacing:0.050px;color:#3a3d41;-webkit-text-stroke:0.25px #3a3d41;">$204.00</div>
<div class="t" style="left:717.3px;top:195.33px;font-size:10.3px;line-height:12px;letter-spacing:0.050px;color:#3a3d41;-webkit-text-stroke:0.25px #3a3d41;">25</div>
<div class="t" style="left:811.47px;top:195.33px;font-size:10.3px;line-height:12px;letter-spacing:0.050px;color:#3a3d41;-webkit-text-stroke:0.25px #3a3d41;">10</div>
<div class="t" style="left:903.47px;top:195.33px;font-size:10.3px;line-height:12px;letter-spacing:0.050px;color:#3a3d41;-webkit-text-stroke:0.25px #3a3d41;">50</div>
<div class="t" style="left:1038.26px;top:195.03px;font-size:10.3px;line-height:12px;letter-spacing:0.414px;color:#473821;-webkit-text-stroke:0.4px #473821;">Low Stock</div>
<div class="t" style="left:162.27px;top:216.4px;font-size:10.3px;line-height:12px;letter-spacing:0.600px;color:#3a3d41;-webkit-text-stroke:0.25px #3a3d41;">Item 3</div>
<div class="t" style="left:256.18px;top:216.4px;font-size:10.3px;line-height:12px;letter-spacing:0.000px;color:#3a3d41;-webkit-text-stroke:0.25px #3a3d41;">Desc 3</div>
<div class="t" style="left:407.22px;top:216.4px;font-size:10.3px;line-height:12px;letter-spacing:0.050px;color:#3a3d41;-webkit-text-stroke:0.25px #3a3d41;">$51.00</div>
<div class="t" style="left:527.65px;top:216.4px;font-size:10.3px;line-height:12px;letter-spacing:0.050px;color:#3a3d41;-webkit-text-stroke:0.25px #3a3d41;">1</div>
<div class="t" style="left:603.22px;top:216.4px;font-size:10.3px;line-height:12px;letter-spacing:0.050px;color:#3a3d41;-webkit-text-stroke:0.25px #3a3d41;">$51.00</div>
<div class="t" style="left:717.27px;top:216.4px;font-size:10.3px;line-height:12px;letter-spacing:0.050px;color:#3a3d41;-webkit-text-stroke:0.25px #3a3d41;">20</div>
<div class="t" style="left:817.36px;top:216.4px;font-size:10.3px;line-height:12px;letter-spacing:0.050px;color:#3a3d41;-webkit-text-stroke:0.25px #3a3d41;">7</div>
<div class="t" style="left:903.47px;top:216.4px;font-size:10.3px;line-height:12px;letter-spacing:0.050px;color:#3a3d41;-webkit-text-stroke:0.25px #3a3d41;">50</div>
<div class="t" style="left:1038.26px;top:216.1px;font-size:10.3px;line-height:12px;letter-spacing:0.550px;color:#0a53a8;-webkit-text-stroke:0.4px #0a53a8;">Reordering</div>
<div class="t b" style="left:68.74px;top:237.47px;font-size:10.3px;line-height:12px;letter-spacing:0.482px;color:#2f4a3a;-webkit-text-stroke:0.35px #2f4a3a;">INVENTORY 2</div>
<div class="t" style="left:162.27px;top:258.53px;font-size:10.3px;line-height:12px;letter-spacing:0.600px;color:#3a3d41;-webkit-text-stroke:0.25px #3a3d41;">Item 4</div>
<div class="t" style="left:256.18px;top:258.53px;font-size:10.3px;line-height:12px;letter-spacing:0.000px;color:#3a3d41;-webkit-text-stroke:0.25px #3a3d41;">Desc 4</div>
<div class="t" style="left:407.22px;top:258.53px;font-size:10.3px;line-height:12px;letter-spacing:0.050px;color:#3a3d41;-webkit-text-stroke:0.25px #3a3d41;">$19.00</div>
<div class="t" style="left:516.04px;top:258.53px;font-size:10.3px;line-height:12px;letter-spacing:0.050px;color:#3a3d41;-webkit-text-stroke:0.25px #3a3d41;">186</div>
<div class="t" style="left:588.76px;top:258.53px;font-size:10.3px;line-height:12px;letter-spacing:0.050px;color:#3a3d41;-webkit-text-stroke:0.25px #3a3d41;">$3,534.00</div>
<div class="t" style="left:711.54px;top:258.53px;font-size:10.3px;line-height:12px;letter-spacing:0.050px;color:#3a3d41;-webkit-text-stroke:0.25px #3a3d41;">158</div>
<div class="t" style="left:817.3px;top:258.53px;font-size:10.3px;line-height:12px;letter-spacing:0.050px;color:#3a3d41;-webkit-text-stroke:0.25px #3a3d41;">6</div>
<div class="t" style="left:897.69px;top:258.53px;font-size:10.3px;line-height:12px;letter-spacing:0.050px;color:#3a3d41;-webkit-text-stroke:0.25px #3a3d41;">100</div>
<div class="t" style="left:1038.15px;top:258.23px;font-size:10.3px;line-height:12px;letter-spacing:0.632px;color:#11734b;-webkit-text-stroke:0.4px #11734b;">In Stock</div>
<div class="t" style="left:162.27px;top:279.6px;font-size:10.3px;line-height:12px;letter-spacing:0.600px;color:#3a3d41;-webkit-text-stroke:0.25px #3a3d41;">Item 5</div>
<div class="t" style="left:256.18px;top:279.6px;font-size:10.3px;line-height:12px;letter-spacing:0.000px;color:#3a3d41;-webkit-text-stroke:0.25px #3a3d41;">Desc 5</div>
<div class="t" style="left:407.22px;top:279.6px;font-size:10.3px;line-height:12px;letter-spacing:0.050px;color:#3a3d41;-webkit-text-stroke:0.25px #3a3d41;">$75.00</div>
<div class="t" style="left:521.89px;top:279.6px;font-size:10.3px;line-height:12px;letter-spacing:0.050px;color:#3a3d41;-webkit-text-stroke:0.25px #3a3d41;">62</div>
<div class="t" style="left:588.76px;top:279.6px;font-size:10.3px;line-height:12px;letter-spacing:0.050px;color:#3a3d41;-webkit-text-stroke:0.25px #3a3d41;">$4,650.00</div>
<div class="t" style="left:717.36px;top:279.6px;font-size:10.3px;line-height:12px;letter-spacing:0.050px;color:#3a3d41;-webkit-text-stroke:0.25px #3a3d41;">39</div>
<div class="t" style="left:811.59px;top:279.6px;font-size:10.3px;line-height:12px;letter-spacing:0.050px;color:#3a3d41;-webkit-text-stroke:0.25px #3a3d41;">12</div>
<div class="t" style="left:903.47px;top:279.6px;font-size:10.3px;line-height:12px;letter-spacing:0.050px;color:#3a3d41;-webkit-text-stroke:0.25px #3a3d41;">50</div>
<div class="t" style="left:1038.15px;top:279.3px;font-size:10.3px;line-height:12px;letter-spacing:0.632px;color:#11734b;-webkit-text-stroke:0.4px #11734b;">In Stock</div>
<div class="t" style="left:162.27px;top:300.67px;font-size:10.3px;line-height:12px;letter-spacing:0.600px;color:#3a3d41;-webkit-text-stroke:0.25px #3a3d41;">Item 6</div>
<div class="t" style="left:256.18px;top:300.67px;font-size:10.3px;line-height:12px;letter-spacing:0.000px;color:#3a3d41;-webkit-text-stroke:0.25px #3a3d41;">Desc 6</div>
<div class="t" style="left:407.22px;top:300.67px;font-size:10.3px;line-height:12px;letter-spacing:0.050px;color:#3a3d41;-webkit-text-stroke:0.25px #3a3d41;">$11.00</div>
<div class="t" style="left:527.58px;top:300.67px;font-size:10.3px;line-height:12px;letter-spacing:0.050px;color:#3a3d41;-webkit-text-stroke:0.25px #3a3d41;">5</div>
<div class="t" style="left:603.22px;top:300.67px;font-size:10.3px;line-height:12px;letter-spacing:0.050px;color:#3a3d41;-webkit-text-stroke:0.25px #3a3d41;">$55.00</div>
<div class="t" style="left:717.32px;top:300.67px;font-size:10.3px;line-height:12px;letter-spacing:0.050px;color:#3a3d41;-webkit-text-stroke:0.25px #3a3d41;">13</div>
<div class="t" style="left:817.28px;top:300.67px;font-size:10.3px;line-height:12px;letter-spacing:0.050px;color:#3a3d41;-webkit-text-stroke:0.25px #3a3d41;">5</div>
<div class="t" style="left:897.69px;top:300.67px;font-size:10.3px;line-height:12px;letter-spacing:0.050px;color:#3a3d41;-webkit-text-stroke:0.25px #3a3d41;">100</div>
<div class="t" style="left:1038.26px;top:300.37px;font-size:10.3px;line-height:12px;letter-spacing:0.550px;color:#0a53a8;-webkit-text-stroke:0.4px #0a53a8;">Reordering</div>
<div class="t b" style="left:68.74px;top:321.73px;font-size:10.3px;line-height:12px;letter-spacing:0.478px;color:#2f4a3a;-webkit-text-stroke:0.35px #2f4a3a;">INVENTORY 3</div>
<div class="t" style="left:162.27px;top:342.8px;font-size:10.3px;line-height:12px;letter-spacing:0.600px;color:#3a3d41;-webkit-text-stroke:0.25px #3a3d41;">Item 7</div>
<div class="t" style="left:256.18px;top:342.8px;font-size:10.3px;line-height:12px;letter-spacing:0.000px;color:#3a3d41;-webkit-text-stroke:0.25px #3a3d41;">Desc 7</div>
<div class="t" style="left:407.22px;top:342.8px;font-size:10.3px;line-height:12px;letter-spacing:0.050px;color:#3a3d41;-webkit-text-stroke:0.25px #3a3d41;">$56.00</div>
<div class="t" style="left:521.82px;top:342.8px;font-size:10.3px;line-height:12px;letter-spacing:0.050px;color:#3a3d41;-webkit-text-stroke:0.25px #3a3d41;">58</div>
<div class="t" style="left:588.76px;top:342.8px;font-size:10.3px;line-height:12px;letter-spacing:0.050px;color:#3a3d41;-webkit-text-stroke:0.25px #3a3d41;">$3,248.00</div>
<div class="t" style="left:711.58px;top:342.8px;font-size:10.3px;line-height:12px;letter-spacing:0.050px;color:#3a3d41;-webkit-text-stroke:0.25px #3a3d41;">109</div>
<div class="t" style="left:817.36px;top:342.8px;font-size:10.3px;line-height:12px;letter-spacing:0.050px;color:#3a3d41;-webkit-text-stroke:0.25px #3a3d41;">7</div>
<div class="t" style="left:897.69px;top:342.8px;font-size:10.3px;line-height:12px;letter-spacing:0.050px;color:#3a3d41;-webkit-text-stroke:0.25px #3a3d41;">100</div>
<div class="t" style="left:927.5px;top:342.8px;font-size:10.3px;line-height:12px;letter-spacing:-0.400px;color:#3a3d41;-webkit-text-stroke:0.25px #3a3d41;">Yes</div>
<div class="t" style="left:1038.26px;top:342.5px;font-size:10.3px;line-height:12px;letter-spacing:0.515px;color:#753800;-webkit-text-stroke:0.4px #753800;">Discontinued</div>
<div class="t" style="left:162.27px;top:363.87px;font-size:10.3px;line-height:12px;letter-spacing:0.600px;color:#3a3d41;-webkit-text-stroke:0.25px #3a3d41;">Item 8</div>
<div class="t" style="left:256.18px;top:363.87px;font-size:10.3px;line-height:12px;letter-spacing:0.000px;color:#3a3d41;-webkit-text-stroke:0.25px #3a3d41;">Desc 8</div>
<div class="t" style="left:407.22px;top:363.87px;font-size:10.3px;line-height:12px;letter-spacing:0.050px;color:#3a3d41;-webkit-text-stroke:0.25px #3a3d41;">$38.00</div>
<div class="t" style="left:516.09px;top:363.87px;font-size:10.3px;line-height:12px;letter-spacing:0.050px;color:#3a3d41;-webkit-text-stroke:0.25px #3a3d41;">101</div>
<div class="t" style="left:588.76px;top:363.87px;font-size:10.3px;line-height:12px;letter-spacing:0.050px;color:#3a3d41;-webkit-text-stroke:0.25px #3a3d41;">$3,838.00</div>
<div class="t" style="left:711.61px;top:363.87px;font-size:10.3px;line-height:12px;letter-spacing:0.050px;color:#3a3d41;-webkit-text-stroke:0.25px #3a3d41;">162</div>
<div class="t" style="left:817.3px;top:363.87px;font-size:10.3px;line-height:12px;letter-spacing:0.050px;color:#3a3d41;-webkit-text-stroke:0.25px #3a3d41;">3</div>
<div class="t" style="left:897.69px;top:363.87px;font-size:10.3px;line-height:12px;letter-spacing:0.050px;color:#3a3d41;-webkit-text-stroke:0.25px #3a3d41;">100</div>
<div class="t" style="left:1038.26px;top:363.57px;font-size:10.3px;line-height:12px;letter-spacing:0.414px;color:#473821;-webkit-text-stroke:0.4px #473821;">Low Stock</div>
<div class="t" style="left:162.27px;top:384.93px;font-size:10.3px;line-height:12px;letter-spacing:0.600px;color:#3a3d41;-webkit-text-stroke:0.25px #3a3d41;">Item 9</div>
<div class="t" style="left:256.18px;top:384.93px;font-size:10.3px;line-height:12px;letter-spacing:0.000px;color:#3a3d41;-webkit-text-stroke:0.25px #3a3d41;">Desc 9</div>
<div class="t" style="left:407.22px;top:384.93px;font-size:10.3px;line-height:12px;letter-spacing:0.050px;color:#3a3d41;-webkit-text-stroke:0.25px #3a3d41;">$59.00</div>
<div class="t" style="left:516.11px;top:384.93px;font-size:10.3px;line-height:12px;letter-spacing:0.050px;color:#3a3d41;-webkit-text-stroke:0.25px #3a3d41;">122</div>
<div class="t" style="left:588.76px;top:384.93px;font-size:10.3px;line-height:12px;letter-spacing:0.050px;color:#3a3d41;-webkit-text-stroke:0.25px #3a3d41;">$7,198.00</div>
<div class="t" style="left:717.39px;top:384.93px;font-size:10.3px;line-height:12px;letter-spacing:0.050px;color:#3a3d41;-webkit-text-stroke:0.25px #3a3d41;">82</div>
<div class="t" style="left:817.3px;top:384.93px;font-size:10.3px;line-height:12px;letter-spacing:0.050px;color:#3a3d41;-webkit-text-stroke:0.25px #3a3d41;">3</div>
<div class="t" style="left:897.69px;top:384.93px;font-size:10.3px;line-height:12px;letter-spacing:0.050px;color:#3a3d41;-webkit-text-stroke:0.25px #3a3d41;">100</div>
<div class="t" style="left:1038.15px;top:384.63px;font-size:10.3px;line-height:12px;letter-spacing:0.632px;color:#11734b;-webkit-text-stroke:0.4px #11734b;">In Stock</div>
<div class="t" style="left:162.27px;top:406px;font-size:10.3px;line-height:12px;letter-spacing:0.600px;color:#3a3d41;-webkit-text-stroke:0.25px #3a3d41;">Item 10</div>
<div class="t" style="left:256.18px;top:406px;font-size:10.3px;line-height:12px;letter-spacing:0.000px;color:#3a3d41;-webkit-text-stroke:0.25px #3a3d41;">Desc 10</div>
<div class="t" style="left:407.22px;top:406px;font-size:10.3px;line-height:12px;letter-spacing:0.050px;color:#3a3d41;-webkit-text-stroke:0.25px #3a3d41;">$50.00</div>
<div class="t" style="left:516.02px;top:406px;font-size:10.3px;line-height:12px;letter-spacing:0.050px;color:#3a3d41;-webkit-text-stroke:0.25px #3a3d41;">175</div>
<div class="t" style="left:588.76px;top:406px;font-size:10.3px;line-height:12px;letter-spacing:0.050px;color:#3a3d41;-webkit-text-stroke:0.25px #3a3d41;">$8,750.00</div>
<div class="t" style="left:711.54px;top:406px;font-size:10.3px;line-height:12px;letter-spacing:0.050px;color:#3a3d41;-webkit-text-stroke:0.25px #3a3d41;">283</div>
<div class="t" style="left:817.29px;top:406px;font-size:10.3px;line-height:12px;letter-spacing:0.050px;color:#3a3d41;-webkit-text-stroke:0.25px #3a3d41;">8</div>
<div class="t" style="left:897.69px;top:406px;font-size:10.3px;line-height:12px;letter-spacing:0.050px;color:#3a3d41;-webkit-text-stroke:0.25px #3a3d41;">100</div>
<div class="t" style="left:1038.26px;top:405.7px;font-size:10.3px;line-height:12px;letter-spacing:0.414px;color:#473821;-webkit-text-stroke:0.4px #473821;">Low Stock</div>
<div class="t b" style="left:68.74px;top:427.07px;font-size:10.3px;line-height:12px;letter-spacing:0.446px;color:#2f4a3a;-webkit-text-stroke:0.35px #2f4a3a;">INVENTORY 4</div>
<div class="t" style="left:162.27px;top:448.13px;font-size:10.3px;line-height:12px;letter-spacing:0.600px;color:#3a3d41;-webkit-text-stroke:0.25px #3a3d41;">Item 11</div>
<div class="t" style="left:256.18px;top:448.13px;font-size:10.3px;line-height:12px;letter-spacing:0.000px;color:#3a3d41;-webkit-text-stroke:0.25px #3a3d41;">Desc 11</div>
<div class="t" style="left:407.22px;top:448.13px;font-size:10.3px;line-height:12px;letter-spacing:0.050px;color:#3a3d41;-webkit-text-stroke:0.25px #3a3d41;">$59.00</div>
<div class="t" style="left:516.04px;top:448.13px;font-size:10.3px;line-height:12px;letter-spacing:0.050px;color:#3a3d41;-webkit-text-stroke:0.25px #3a3d41;">176</div>
<div class="t" style="left:582.98px;top:448.13px;font-size:10.3px;line-height:12px;letter-spacing:0.050px;color:#3a3d41;-webkit-text-stroke:0.25px #3a3d41;">$10,384.00</div>
<div class="t" style="left:711.58px;top:448.13px;font-size:10.3px;line-height:12px;letter-spacing:0.050px;color:#3a3d41;-webkit-text-stroke:0.25px #3a3d41;">229</div>
<div class="t" style="left:817.35px;top:448.13px;font-size:10.3px;line-height:12px;letter-spacing:0.050px;color:#3a3d41;-webkit-text-stroke:0.25px #3a3d41;">1</div>
<div class="t" style="left:897.69px;top:448.13px;font-size:10.3px;line-height:12px;letter-spacing:0.050px;color:#3a3d41;-webkit-text-stroke:0.25px #3a3d41;">100</div>
<div class="t" style="left:1038.26px;top:447.83px;font-size:10.3px;line-height:12px;letter-spacing:0.414px;color:#473821;-webkit-text-stroke:0.4px #473821;">Low Stock</div>
<div class="t" style="left:162.27px;top:469.2px;font-size:10.3px;line-height:12px;letter-spacing:0.600px;color:#3a3d41;-webkit-text-stroke:0.25px #3a3d41;">Item 12</div>
<div class="t" style="left:256.18px;top:469.2px;font-size:10.3px;line-height:12px;letter-spacing:0.000px;color:#3a3d41;-webkit-text-stroke:0.25px #3a3d41;">Desc 12</div>
<div class="t" style="left:407.22px;top:469.2px;font-size:10.3px;line-height:12px;letter-spacing:0.050px;color:#3a3d41;-webkit-text-stroke:0.25px #3a3d41;">$18.00</div>
<div class="t" style="left:521.89px;top:469.2px;font-size:10.3px;line-height:12px;letter-spacing:0.050px;color:#3a3d41;-webkit-text-stroke:0.25px #3a3d41;">22</div>
<div class="t" style="left:597.45px;top:469.2px;font-size:10.3px;line-height:12px;letter-spacing:0.050px;color:#3a3d41;-webkit-text-stroke:0.25px #3a3d41;">$396.00</div>
<div class="t" style="left:717.32px;top:469.2px;font-size:10.3px;line-height:12px;letter-spacing:0.050px;color:#3a3d41;-webkit-text-stroke:0.25px #3a3d41;">36</div>
<div class="t" style="left:811.59px;top:469.2px;font-size:10.3px;line-height:12px;letter-spacing:0.050px;color:#3a3d41;-webkit-text-stroke:0.25px #3a3d41;">12</div>
<div class="t" style="left:897.69px;top:469.2px;font-size:10.3px;line-height:12px;letter-spacing:0.050px;color:#3a3d41;-webkit-text-stroke:0.25px #3a3d41;">100</div>
<div class="t" style="left:1038.26px;top:468.9px;font-size:10.3px;line-height:12px;letter-spacing:0.550px;color:#0a53a8;-webkit-text-stroke:0.4px #0a53a8;">Reordering</div>
<div class="t" style="left:162.27px;top:490.27px;font-size:10.3px;line-height:12px;letter-spacing:0.600px;color:#3a3d41;-webkit-text-stroke:0.25px #3a3d41;">Item 13</div>
<div class="t" style="left:256.18px;top:490.27px;font-size:10.3px;line-height:12px;letter-spacing:0.000px;color:#3a3d41;-webkit-text-stroke:0.25px #3a3d41;">Desc 13</div>
<div class="t" style="left:407.22px;top:490.27px;font-size:10.3px;line-height:12px;letter-spacing:0.050px;color:#3a3d41;-webkit-text-stroke:0.25px #3a3d41;">$26.00</div>
<div class="t" style="left:521.89px;top:490.27px;font-size:10.3px;line-height:12px;letter-spacing:0.050px;color:#3a3d41;-webkit-text-stroke:0.25px #3a3d41;">72</div>
<div class="t" style="left:588.76px;top:490.27px;font-size:10.3px;line-height:12px;letter-spacing:0.050px;color:#3a3d41;-webkit-text-stroke:0.25px #3a3d41;">$1,872.00</div>
<div class="t" style="left:711.61px;top:490.27px;font-size:10.3px;line-height:12px;letter-spacing:0.050px;color:#3a3d41;-webkit-text-stroke:0.25px #3a3d41;">102</div>
<div class="t" style="left:817.33px;top:490.27px;font-size:10.3px;line-height:12px;letter-spacing:0.050px;color:#3a3d41;-webkit-text-stroke:0.25px #3a3d41;">9</div>
<div class="t" style="left:897.69px;top:490.27px;font-size:10.3px;line-height:12px;letter-spacing:0.050px;color:#3a3d41;-webkit-text-stroke:0.25px #3a3d41;">100</div>
<div class="t" style="left:1038.26px;top:489.97px;font-size:10.3px;line-height:12px;letter-spacing:0.414px;color:#473821;-webkit-text-stroke:0.4px #473821;">Low Stock</div>
<div class="t" style="left:162.27px;top:511.33px;font-size:10.3px;line-height:12px;letter-spacing:0.600px;color:#3a3d41;-webkit-text-stroke:0.25px #3a3d41;">Item 14</div>
<div class="t" style="left:256.18px;top:511.33px;font-size:10.3px;line-height:12px;letter-spacing:0.000px;color:#3a3d41;-webkit-text-stroke:0.25px #3a3d41;">Desc 14</div>
<div class="t" style="left:407.22px;top:511.33px;font-size:10.3px;line-height:12px;letter-spacing:0.050px;color:#3a3d41;-webkit-text-stroke:0.25px #3a3d41;">$42.00</div>
<div class="t" style="left:521.89px;top:511.33px;font-size:10.3px;line-height:12px;letter-spacing:0.050px;color:#3a3d41;-webkit-text-stroke:0.25px #3a3d41;">62</div>
<div class="t" style="left:588.76px;top:511.33px;font-size:10.3px;line-height:12px;letter-spacing:0.050px;color:#3a3d41;-webkit-text-stroke:0.25px #3a3d41;">$2,604.00</div>
<div class="t" style="left:717.32px;top:511.33px;font-size:10.3px;line-height:12px;letter-spacing:0.050px;color:#3a3d41;-webkit-text-stroke:0.25px #3a3d41;">83</div>
<div class="t" style="left:817.36px;top:511.33px;font-size:10.3px;line-height:12px;letter-spacing:0.050px;color:#3a3d41;-webkit-text-stroke:0.25px #3a3d41;">2</div>
<div class="t" style="left:897.69px;top:511.33px;font-size:10.3px;line-height:12px;letter-spacing:0.050px;color:#3a3d41;-webkit-text-stroke:0.25px #3a3d41;">100</div>
<div class="t" style="left:1038.26px;top:511.03px;font-size:10.3px;line-height:12px;letter-spacing:0.414px;color:#473821;-webkit-text-stroke:0.4px #473821;">Low Stock</div>
<div class="t" style="left:90.44px;top:566px;font-size:19.2px;line-height:23px;letter-spacing:0.701px;color:#3d8d6c;-webkit-text-stroke:0.35px #3d8d6c;">AssetLoom</div>
</div>
</body></html>
